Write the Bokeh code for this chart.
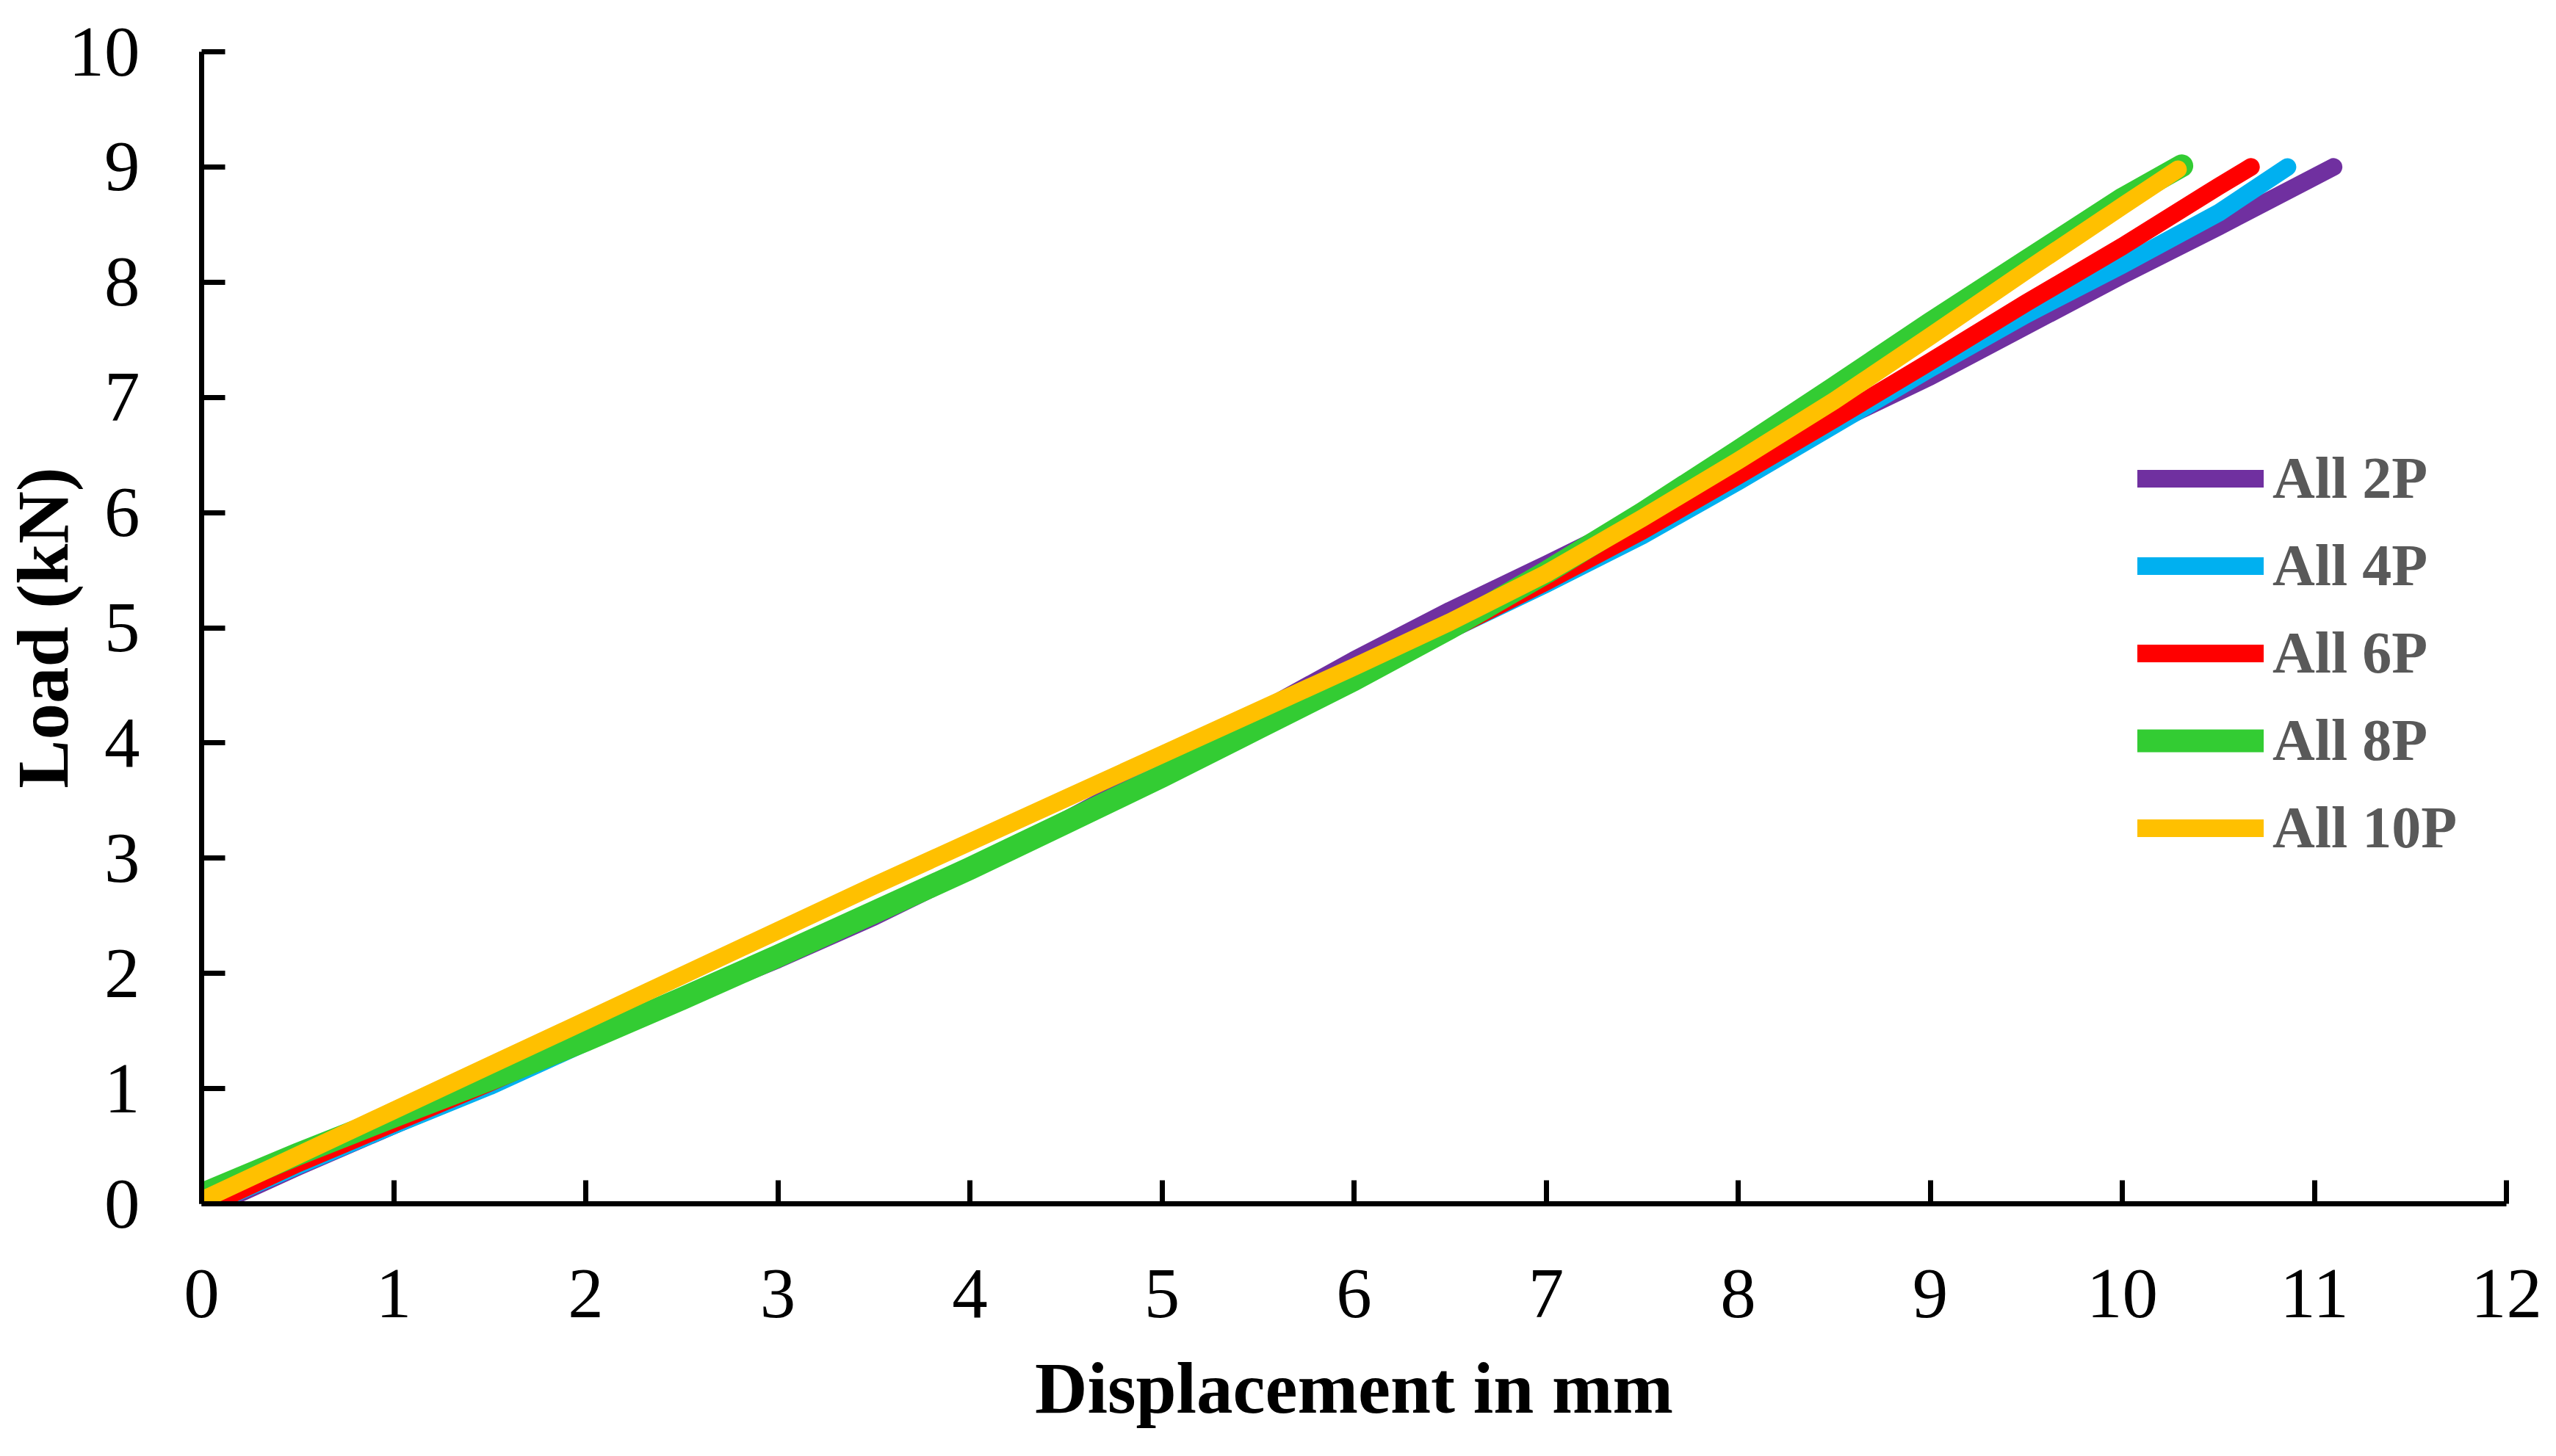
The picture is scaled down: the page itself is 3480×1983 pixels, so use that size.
from bokeh.plotting import figure
from bokeh.models import Range1d, FixedTicker, Legend, LegendItem
from bokeh.embed import file_html
from bokeh.resources import INLINE

# ---- data ----
x_2p = [0.08, 0.5, 1, 1.5, 2, 2.5, 3, 3.5, 4, 4.5, 5, 5.5, 6, 6.5, 7, 7.5, 8, 8.5, 9, 9.5, 10, 10.5, 11.1]
y_2p = [0, 0.32, 0.68, 1.04, 1.42, 1.78, 2.12, 2.49, 2.90, 3.33, 3.78, 4.26, 4.72, 5.15, 5.55, 5.96, 6.38, 6.78, 7.18, 7.62, 8.06, 8.48, 9.0]

x_4p = [0.05, 0.5, 1, 1.5, 2, 2.5, 3, 3.5, 4, 4.5, 5, 5.5, 6, 6.5, 7, 7.5, 8, 8.5, 9, 9.5, 10, 10.5, 10.86]
y_4p = [0, 0.33, 0.68, 1.02, 1.40, 1.78, 2.15, 2.53, 2.92, 3.32, 3.74, 4.15, 4.56, 4.98, 5.38, 5.80, 6.27, 6.76, 7.25, 7.72, 8.15, 8.60, 9.0]

x_6p = [0.05, 0.5, 1, 1.5, 2, 2.5, 3, 3.5, 4, 4.5, 5, 5.5, 6, 6.5, 7, 7.5, 8, 8.5, 9, 9.5, 10, 10.5, 10.67]
y_6p = [0, 0.35, 0.70, 1.05, 1.42, 1.79, 2.16, 2.54, 2.93, 3.33, 3.73, 4.14, 4.56, 4.98, 5.40, 5.84, 6.32, 6.81, 7.31, 7.82, 8.31, 8.83, 9.0]

x_8p = [0, 0.5, 1, 1.5, 2, 2.5, 3, 3.5, 4, 4.5, 5, 5.5, 6, 6.5, 7, 7.5, 8, 8.5, 9, 9.5, 10, 10.31]
y_8p = [0.08, 0.43, 0.76, 1.08, 1.42, 1.78, 2.15, 2.53, 2.91, 3.31, 3.71, 4.13, 4.55, 5.00, 5.48, 5.99, 6.53, 7.08, 7.64, 8.18, 8.72, 9.01]

x_10p = [0, 0.5, 1, 1.5, 2, 2.5, 3, 3.5, 4, 4.5, 5, 5.5, 6, 6.5, 7, 7.5, 8, 8.5, 9, 9.5, 10, 10.29]
y_10p = [0.03, 0.42, 0.81, 1.20, 1.59, 1.98, 2.37, 2.76, 3.14, 3.52, 3.90, 4.28, 4.66, 5.05, 5.47, 5.95, 6.45, 6.97, 7.53, 8.10, 8.66, 8.98]

series_names = ["All 2P", "All 4P", "All 6P", "All 8P", "All 10P"]
series_colors = ["#7030A0", "#00B0F0", "#FF0000", "#33CC33", "#FFC000"]
series_widths = [24, 24, 24, 31, 24]
x_ticks = list(range(0, 13))
y_ticks = list(range(0, 11))

xs = [x_2p, x_4p, x_6p, x_8p, x_10p]
ys = [y_2p, y_4p, y_6p, y_8p, y_10p]

FONT = "Liberation Serif"

p = figure(width=3464, height=1960, output_backend="svg", toolbar_location=None,
           x_range=Range1d(0, 12), y_range=Range1d(0, 10),
           min_border_left=273, min_border_right=52, min_border_top=70, min_border_bottom=321)
p.background_fill_color = "white"
p.border_fill_color = "white"
p.outline_line_color = None
p.grid.visible = False

for ax in (p.xaxis[0], p.yaxis[0]):
    ax.axis_line_width = 7
    ax.axis_line_color = "black"
    ax.major_tick_line_width = 7
    ax.major_tick_line_color = "black"
    ax.major_tick_in = 32
    ax.major_tick_out = 0
    ax.minor_tick_line_color = None
    ax.major_label_text_font = FONT
    ax.major_label_text_font_size = "97px"
    ax.major_label_text_color = "black"
    ax.axis_label_text_font = FONT
    ax.axis_label_text_font_size = "99px"
    ax.axis_label_text_font_style = "bold"
    ax.axis_label_text_color = "black"

p.xaxis.ticker = FixedTicker(ticks=x_ticks)
p.yaxis.ticker = FixedTicker(ticks=y_ticks)
p.xaxis.axis_label = "Displacement in mm"
p.yaxis.axis_label = "Load (kN)"
p.xaxis.major_label_standoff = 90
p.yaxis.major_label_standoff = 84
p.xaxis.axis_label_standoff = 39
p.yaxis.axis_label_standoff = -22

renderers = []
for x, y, c, w in zip(xs, ys, series_colors, series_widths):
    r = p.line(x, y, line_color=c, line_width=w, line_cap="round", line_join="round")
    renderers.append(r)

legend = Legend(items=[LegendItem(label=n, renderers=[r]) for n, r in zip(series_names, renderers)],
                location=(2636, 452), glyph_width=172, glyph_height=119, label_height=119,
                spacing=0, padding=0, margin=0, label_standoff=12,
                border_line_color=None, background_fill_alpha=0,
                label_text_font=FONT, label_text_font_style="bold",
                label_text_font_size="80px", label_text_color="#595959")
p.add_layout(legend)

open("out.html", "w").write(file_html(p, INLINE))
